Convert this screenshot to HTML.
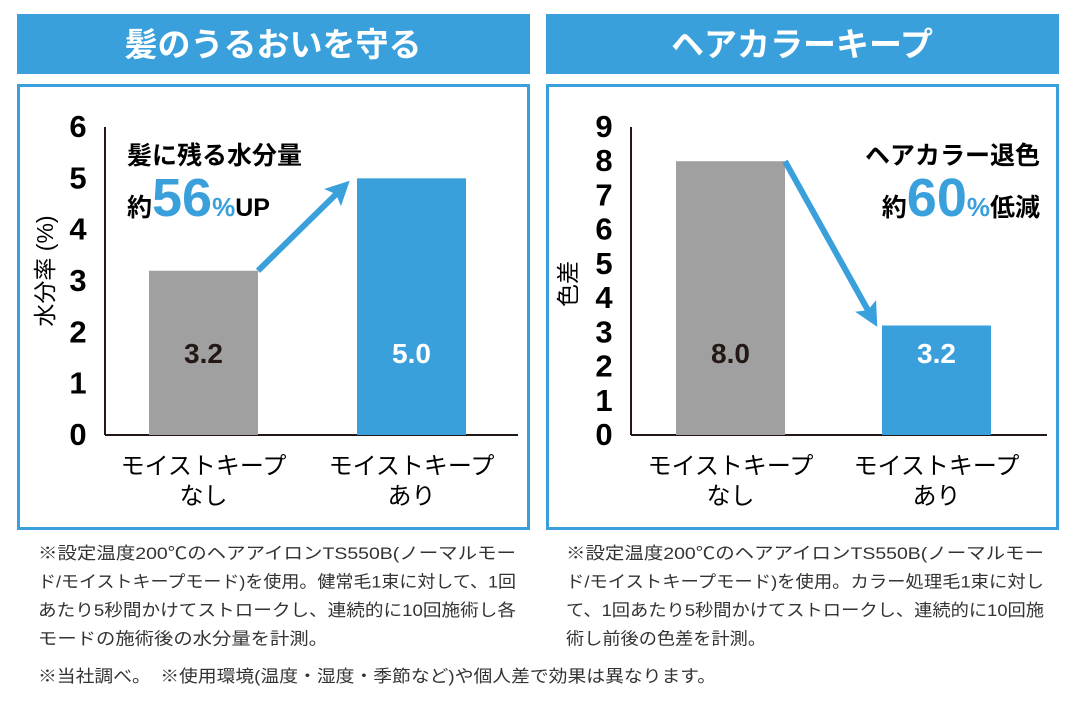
<!DOCTYPE html>
<html><head><meta charset="utf-8"><style>
body{margin:0;width:1080px;height:700px;background:#fff;overflow:hidden;font-family:"Liberation Sans","Noto Sans CJK JP",sans-serif;color:#231815}
svg text{font-family:"Liberation Sans","Noto Sans CJK JP",sans-serif}
</style></head><body>
<svg width="1080" height="700">
<defs><marker id="ah" markerWidth="4" markerHeight="4" refX="2.2" refY="2" orient="auto" markerUnits="strokeWidth"><path d="M0,0 L4,2 L0,4 L0.8,2 Z" fill="#3aa0dc"/></marker></defs>
<g id="root"></g>
</svg>
<script>
const leftCats=[["モイストキープ","なし"],["モイストキープ","あり"]];
const leftVals=[3.2,5.0];
const leftTicks=[0,1,2,3,4,5,6];
const rightCats=[["モイストキープ","なし"],["モイストキープ","あり"]];
const rightVals=[8.0,3.2];
const rightTicks=[0,1,2,3,4,5,6,7,8,9];
const NS="http://www.w3.org/2000/svg";
const root=document.getElementById('root');
function el(t,a,txt){const e=document.createElementNS(NS,t);for(const k in a)e.setAttribute(k,a[k]);if(txt!=null)e.textContent=txt;root.appendChild(e);return e;}
function panel(cfg){
 const {x0,title,tag,axisX,bars,vals,cats,ticks,maxV,ylabel}=cfg;
 let e=el('rect',{x:x0,y:14,width:513,height:60,fill:'#3aa0dc'});
 
 e=el('text',{x:x0+256,y:56,'text-anchor':'middle','font-size':33,'font-weight':'bold',fill:'#fff'},title);
 
 e=el('rect',{x:x0+1.5,y:85.5,width:510,height:443,fill:'none',stroke:'#3aa0dc','stroke-width':3});
 
 const base=435,top=127;
 const y=v=>base-(v/maxV)*(base-top);
 ticks.forEach(t=>{e=el('text',{x:axisX-27,y:y(t)+10,'text-anchor':'middle','font-size':31,'font-weight':'bold'},t);
  });
 e=el('line',{x1:axisX,y1:top,x2:axisX,y2:base,stroke:'#231815','stroke-width':2});
 
 e=el('line',{x1:axisX,y1:base,x2:x0+501,y2:base,stroke:'#231815','stroke-width':2});
 
 const cols=['#a0a0a0','#3aa0dc'];
 vals.forEach((v,i)=>{const bx=bars[i];
  e=el('rect',{x:bx,y:y(v),width:109,height:base-y(v),fill:cols[i]});
  
  e=el('text',{x:bx+54.5,y:363,'text-anchor':'middle','font-size':28,'font-weight':'bold',fill:i?'#fff':'#231815'},v.toFixed(1));
  
  cats[i].forEach((c,j)=>{e=el('text',{x:bx+54.5,y:474+j*30,'text-anchor':'middle','font-size':24},c);
   });
 });
 e=el('text',{transform:`translate(${cfg.ylx},${cfg.yly}) rotate(-90)`,'text-anchor':'middle','font-size':23},ylabel);
 
 return y;
}
const yl=panel({x0:17,title:'髪のうるおいを守る',tag:'left',axisX:105,bars:[149,357],vals:leftVals,cats:leftCats,ticks:leftTicks,maxV:6,ylabel:'水分率 (%)',ylx:53,yly:271});
const yr=panel({x0:546,title:'ヘアカラーキープ',tag:'right',axisX:631,bars:[676,882],vals:rightVals,cats:rightCats,ticks:rightTicks,maxV:9,ylabel:'色差',ylx:576,yly:284});
let e=el('line',{x1:258,y1:yl(leftVals[0]),x2:342,y2:yl(leftVals[1])+10,stroke:'#3aa0dc','stroke-width':6,'marker-end':'url(#ah)'});

e=el('line',{x1:785,y1:yr(rightVals[0]),x2:872,y2:yr(rightVals[1])-8,stroke:'#3aa0dc','stroke-width':6,'marker-end':'url(#ah)'});

function ann(x,y1,l1,pre,num,post,anchor){
 let e=el('text',{x:x,y:y1,'text-anchor':anchor,'font-size':25,'font-weight':'bold'},l1);
 
 e=el('text',{x:x,y:y1+52,'text-anchor':anchor,'font-weight':'bold','font-size':25});
 
 const a=document.createElementNS(NS,'tspan');a.textContent=pre;e.appendChild(a);
 const b=document.createElementNS(NS,'tspan');b.setAttribute('font-size',54);b.setAttribute('fill','#3aa0dc');b.textContent=num;e.appendChild(b);
 const c=document.createElementNS(NS,'tspan');c.setAttribute('font-size',26);c.setAttribute('fill','#3aa0dc');c.textContent='%';e.appendChild(c);
 const d=document.createElementNS(NS,'tspan');d.textContent=post;e.appendChild(d);
}
ann(127,164,'髪に残る水分量','約','56','UP','start');
ann(1040,164,'ヘアカラー退色','約','60','低減','end');
const notesL=['※設定温度200℃のヘアアイロンTS550B(ノーマルモー','ド/モイストキープモード)を使用。健常毛1束に対して、1回','あたり5秒間かけてストロークし、連続的に10回施術し各','モードの施術後の水分量を計測。'];
const notesR=['※設定温度200℃のヘアアイロンTS550B(ノーマルモー','ド/モイストキープモード)を使用。カラー処理毛1束に対し','て、1回あたり5秒間かけてストロークし、連続的に10回施','術し前後の色差を計測。'];
notesL.forEach((t,i)=>{e=el('text',{x:38,y:559+i*28.5,'font-size':17,textLength:i==3?290:478,lengthAdjust:'spacingAndGlyphs',fill:'#333'},t);});
notesR.forEach((t,i)=>{e=el('text',{x:566,y:559+i*28.5,'font-size':17,textLength:i==3?200:478,lengthAdjust:'spacingAndGlyphs',fill:'#333'},t);});
e=el('text',{x:38,y:682,'font-size':17,fill:'#333',textLength:678,lengthAdjust:'spacingAndGlyphs'},'※当社調べ。　※使用環境(温度・湿度・季節など)や個人差で効果は異なります。');

</script>
</body></html>
